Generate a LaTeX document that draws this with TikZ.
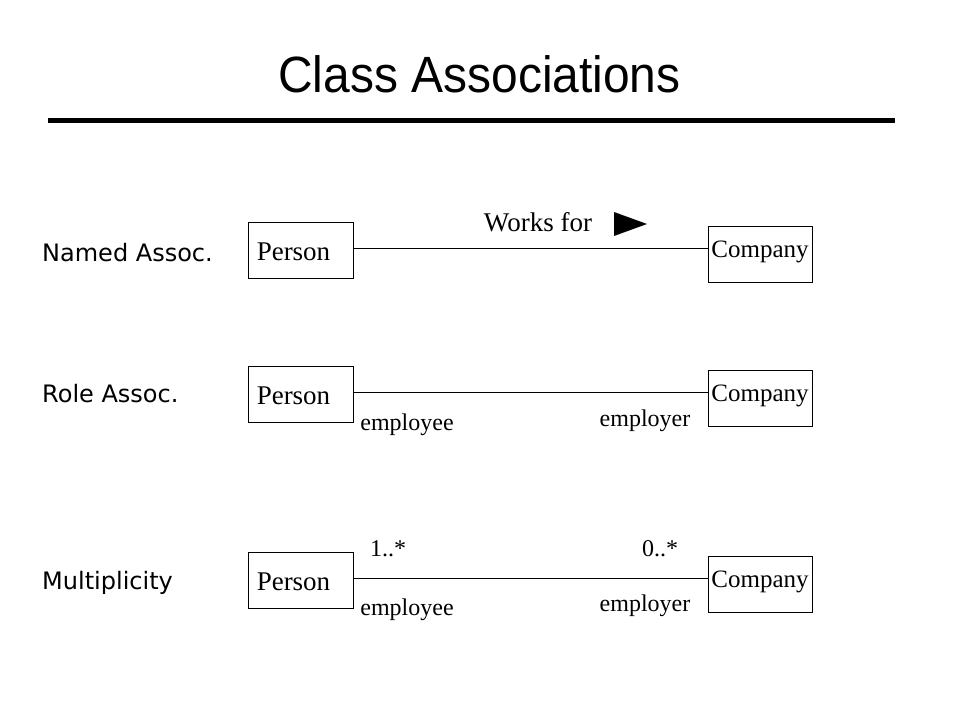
\documentclass[tikz,border=0pt]{standalone}
\usepackage{fontspec}
\setmainfont{Liberation Serif}
\newfontfamily\titlefont{Liberation Sans}
\newfontfamily\labelfont{DejaVu Sans}
\usetikzlibrary{positioning}

\begin{document}
\begin{tikzpicture}[x=1pt, y=-1pt,
    cls/.style = {draw, rectangle, minimum width=105pt, minimum height=56pt, inner sep=0pt},
    comp/.style = {cls, minimum width=104pt},
    ptext/.style = {xshift=-7pt, yshift=-2pt, inner sep=0pt, font=\fontsize{27}{27}\selectfont},
    ctext/.style = {yshift=2.5pt, inner sep=0pt, font=\fontsize{25}{25}\selectfont},
    role/.style = {font=\fontsize{24}{24}\selectfont, inner sep=0pt},
    kind/.style = {font=\labelfont\fontsize{24}{24}\selectfont, anchor=west, inner sep=0pt}]
    \useasboundingbox (0,0) rectangle (960,720);

    \node (title) at (479.5,74) {\titlefont\fontsize{51}{51}\selectfont\scalebox{0.94}[1]{Class Associations}};
    \draw[line width=5pt] (48,120) -- (895,120);

    % named association
    \node[kind] (K1) at (42,253) {Named Assoc.};
    \node[cls, label={[ptext]center:Person}] (P1) at (300.5,250) {};
    \node[comp, label={[ctext]center:Company}] (C1) at (760,254) {};
    \draw ([yshift=2pt]P1.east) -- ([yshift=2pt]P1.east -| C1.west);
    \node[role, font=\fontsize{27}{27}\selectfont] (W1) at (538,222) {Works for};
    \fill (614,212) -- (647,224) -- (614,236) -- cycle;

    % role association
    \node[kind] (K2) at (42,394) {Role Assoc.};
    \node[cls, label={[ptext]center:Person}] (P2) at (300.5,394) {};
    \node[comp, label={[ctext]center:Company}] (C2) at (760,398) {};
    \draw ([yshift=2pt]P2.east) -- ([yshift=2pt]P2.east -| C2.west);
    \node[role] (R2a) at (407,425) {employee};
    \node[role] (R2b) at (645,421) {employer};

    % multiplicity
    \node[kind] (K3) at (42,583) {Multiplicity};
    \node[cls, label={[ptext]center:Person}] (P3) at (300.5,580) {};
    \node[comp, label={[ctext]center:Company}] (C3) at (760,584.5) {};
    \draw ([yshift=2pt]P3.east) -- ([yshift=2pt]P3.east -| C3.west);
    \node[role] (M3a) at (388,549) {1..*};
    \node[role] (M3b) at (660,549) {0..*};
    \node[role] (R3a) at (407,610) {employee};
    \node[role] (R3b) at (645,606) {employer};
\end{tikzpicture}
\end{document}
